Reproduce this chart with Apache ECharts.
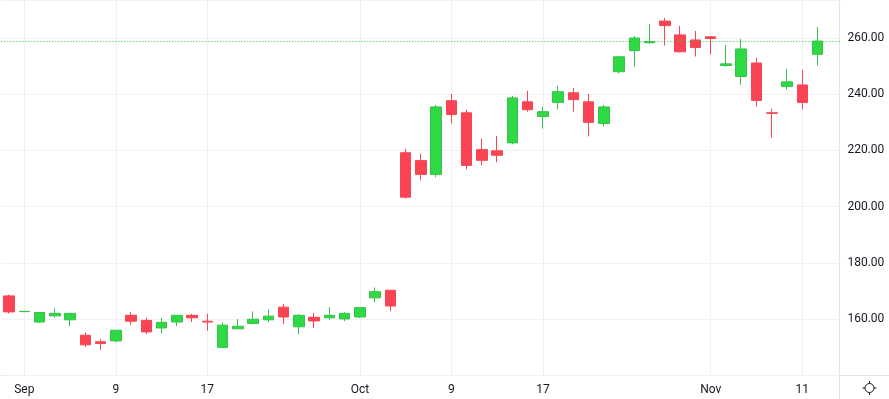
<!DOCTYPE html>
<html>
<head>
<meta charset="utf-8">
<script src="https://cdn.jsdelivr.net/npm/echarts@6/dist/echarts.min.js"></script>
<style>
  html, body { margin: 0; padding: 0; background: #fff; }
  #chart { width: 889px; height: 399px; }
</style>
</head>
<body>
<div id="chart"></div>
<script>
// daily candles (54 bars + one empty slot on the right)
const opens  = [168.3, 162.7, 159.0, 161.2, 159.8, 154.3, 152.0, 152.3, 161.4, 159.6,
                156.9, 159.0, 161.4, 159.3, 150.0, 156.6, 158.5, 159.8, 164.3, 157.3,
                160.7, 160.5, 160.1, 160.8, 167.6, 170.3, 219.2, 216.4, 211.5, 237.7,
                233.4, 220.3, 219.9, 222.7, 237.3, 232.1, 237.1, 240.5, 237.3, 229.6,
                248.0, 255.5, 258.3, 266.0, 261.1, 259.3, 260.4, 250.2, 246.3, 251.1,
                233.4, 242.7, 243.3, 254.2];
const closes = [162.6, 162.8, 162.4, 162.1, 162.1, 150.9, 151.4, 156.1, 159.3, 155.5,
                158.9, 161.4, 160.5, 159.0, 157.9, 157.5, 160.0, 161.1, 160.8, 161.4,
                159.4, 161.4, 162.1, 164.1, 169.8, 164.7, 203.4, 211.5, 235.5, 232.8,
                214.7, 216.5, 218.3, 238.7, 234.5, 233.8, 240.9, 238.1, 230.0, 235.5,
                253.3, 260.0, 258.7, 264.4, 255.1, 256.6, 259.8, 250.8, 256.1, 237.8,
                233.2, 244.4, 237.1, 258.9];
const lows   = [162.0, 162.6, 158.8, 160.5, 157.6, 150.1, 149.1, 151.8, 158.0, 154.7,
                154.9, 157.6, 159.0, 155.9, 150.0, 156.5, 158.5, 159.0, 158.3, 154.7,
                156.9, 159.8, 159.3, 160.4, 166.0, 162.8, 202.9, 209.4, 210.5, 229.6,
                213.3, 214.7, 215.8, 222.2, 233.8, 227.8, 234.6, 233.8, 225.0, 228.5,
                247.4, 249.8, 258.0, 257.3, 254.8, 253.4, 254.1, 249.8, 243.4, 235.5,
                224.6, 241.6, 234.6, 250.2];
const highs  = [168.8, 162.9, 162.6, 163.9, 162.1, 155.3, 152.9, 156.1, 162.6, 160.5,
                160.5, 161.4, 161.9, 161.9, 158.9, 160.0, 162.8, 163.5, 165.4, 161.8,
                162.2, 164.3, 162.5, 164.1, 171.3, 170.3, 220.6, 218.9, 236.2, 240.1,
                234.5, 224.2, 225.2, 239.4, 241.2, 235.5, 243.0, 242.3, 240.1, 236.2,
                253.7, 260.7, 265.0, 267.1, 264.3, 262.5, 260.7, 257.5, 259.6, 252.9,
                234.8, 249.0, 248.7, 263.9];

// bottom axis: which bar gets a label
const tickIndex  = [1, 7, 13, 23, 29, 35, 46, 52];
const tickLabels = ['Sep', '9', '17', 'Oct', '9', '17', 'Nov', '11'];

const barCount = 55;
const categories = [];
for (let i = 0; i < barCount; i++) categories.push(String(i));

const candles = opens.map((o, i) => [o, closes[i], lows[i], highs[i]]);
const lastClose = closes[closes.length - 1];

const textColor = '#131722';
const gridColor = '#eff1f5';
const borderColor = '#e0e3eb';

function initChart() {
  const chart = echarts.init(document.getElementById('chart'));
  const option = {
    animation: false,
    backgroundColor: '#ffffff',
    textStyle: { fontFamily: 'Roboto, sans-serif' },
    grid: { left: 1.4, right: 48.6, top: 0, bottom: 23.5, containLabel: false },
    xAxis: {
      type: 'category',
      data: categories,
      boundaryGap: true,
      axisLine: { show: false },
      axisTick: { show: false },
      splitLine: { show: false },
      axisLabel: {
        color: textColor,
        fontSize: 12,
        margin: 8,
        interval: (i) => tickIndex.includes(i),
        formatter: (v, i) => {
          const k = tickIndex.indexOf(i);
          return k >= 0 ? tickLabels[k] : '';
        }
      }
    },
    yAxis: {
      type: 'value',
      position: 'right',
      min: 140,
      max: 273.5,
      interval: 20,
      scale: true,
      axisLine: { show: false },
      axisTick: { show: false },
      splitLine: { lineStyle: { color: gridColor, width: 1 } },
      axisLabel: {
        color: textColor,
        fontSize: 12,
        margin: 7,
        showMinLabel: false,
        showMaxLabel: false,
        formatter: (v) => v.toFixed(2)
      }
    },
    series: [
      {
        name: 'Price',
        type: 'candlestick',
        data: candles,
        barWidth: 11,
        itemStyle: {
          color: '#2ed944',
          color0: '#fa4453',
          borderColor: '#37c24b',
          borderColor0: '#fa4453',
          borderWidth: 1
        },
        markLine: {
          z: 1,
          silent: true,
          symbol: 'none',
          label: { show: false },
          lineStyle: { color: gridColor, type: 'solid', width: 1 },
          data: tickIndex.map((i) => ({ xAxis: String(i) }))
        }
      },
      {
        // last-price line, dotted
        name: 'Last',
        type: 'line',
        data: [],
        markLine: {
          z: 3,
          silent: true,
          symbol: 'none',
          label: { show: false },
          lineStyle: { color: '#22c838', type: [1, 2], width: 1, opacity: 1 },
          data: [{ yAxis: lastClose }]
        }
      }
    ],
    graphic: [
      { type: 'line', shape: { x1: 0, y1: 375.5, x2: 889, y2: 375.5 },
        style: { stroke: borderColor, lineWidth: 1 }, silent: true },
      { type: 'line', shape: { x1: 839.5, y1: 0, x2: 839.5, y2: 399 },
        style: { stroke: borderColor, lineWidth: 1 }, silent: true },
      // settings glyph in the corner
      { type: 'group', x: 869.5, y: 388, silent: true, children: [
        { type: 'circle', shape: { cx: 0, cy: 0, r: 4.5 }, style: { fill: 'none', stroke: textColor, lineWidth: 1 } },
        { type: 'line', shape: { x1: 0, y1: -7, x2: 0, y2: -4.5 }, style: { stroke: textColor, lineWidth: 1 } },
        { type: 'line', shape: { x1: 0, y1: 4.5, x2: 0, y2: 7 }, style: { stroke: textColor, lineWidth: 1 } },
        { type: 'line', shape: { x1: -7, y1: 0, x2: -4.5, y2: 0 }, style: { stroke: textColor, lineWidth: 1 } },
        { type: 'line', shape: { x1: 4.5, y1: 0, x2: 7, y2: 0 }, style: { stroke: textColor, lineWidth: 1 } }
      ] }
    ]
  };
  chart.setOption(option);
}

document.addEventListener('DOMContentLoaded', initChart);
</script>
</body>
</html>
